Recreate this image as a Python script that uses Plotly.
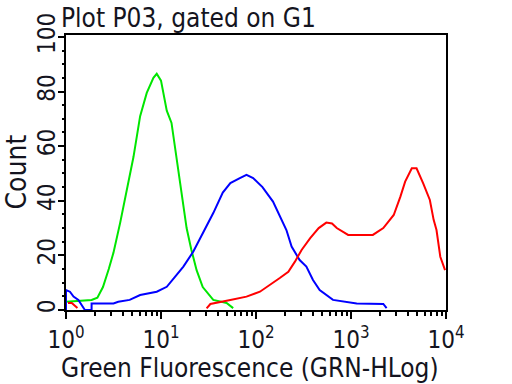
import plotly.graph_objects as go

# ---- data (fluorescence value, count) ----
green_x = [1.0, 1.86, 2.14, 2.45, 2.82, 3.16, 3.72, 4.37, 5.13, 6.03, 7.08, 8.32, 9.02,
           10.0, 11.5, 12.9, 14.6, 16.6, 18.6, 20.9, 23.7, 27.5, 35.5, 49.0, 57.5]
green_y = [3.0, 3.7, 4.5, 8.4, 15.0, 21.0, 32.0, 44.0, 56.0, 71.0, 79.5, 85.0, 86.5,
           84.0, 73.0, 68.5, 56.0, 43.0, 30.0, 22.0, 14.6, 8.4, 3.7, 2.6, 0.7]

blue_x = [1.0, 1.0, 1.10, 1.20, 1.35, 1.51, 1.58, 1.86, 1.86, 3.16, 3.55, 4.68, 6.03, 9.02,
          11.5, 14.1, 17.2, 21.9, 27.5, 35.5, 44.7, 53.7, 67.6, 79.4, 93.3, 117, 151,
          178, 209, 237, 288, 339, 398, 468, 646, 1148, 2188, 2371]
blue_y = [0.0, 7.3, 6.7, 4.9, 3.7, 1.2, 0.0, 0.0, 2.4, 2.4, 3.0, 3.7, 5.5, 6.7,
          8.5, 12.2, 15.9, 21.4, 28.0, 35.5, 43.0, 46.5, 48.3, 49.5, 48.3, 45.0, 39.7,
          34.2, 29.3, 23.2, 18.3, 15.9, 11.0, 7.3, 3.7, 2.4, 2.2, 0.7]

red_x = [1.05, 1.15, 1.32, None, 30.2, 33.1, 53.7, 79.4, 110, 141, 178, 219, 257, 302,
         372, 457, 550, 631, 708, 933, 1698, 2188, 2818, 3311, 3715, 4365, 4898,
         5754, 6761, 7413, 7943, 8710, 9772]
red_y = [2.6, 2.6, 0.7, None, 0.6, 2.2, 3.7, 4.9, 6.7, 9.2, 11.7, 14.0, 17.7, 22.0,
         26.3, 30.0, 32.0, 31.7, 30.0, 27.5, 27.5, 30.0, 34.8, 41.5, 47.0, 51.9, 51.9,
         46.4, 40.3, 33.0, 29.3, 19.5, 14.6]

x_tickvals = [1, 10, 100, 1000, 10000]
x_ticktext = ["10<sup>0</sup>", "10<sup>1</sup>", "10<sup>2</sup>", "10<sup>3</sup>", "10<sup>4</sup>"]
x_minor = [m * d for d in [1, 10, 100, 1000] for m in range(2, 10)]
y_tickvals = [0, 20, 40, 60, 80, 100]
y_ticktext = ["0", "20", "40", "60", "80", "100"]
y_mid_ticks = [10, 30, 50, 70, 90]

FONT = "DejaVu Sans Condensed, DejaVu Sans, sans-serif"
TXT = "#141420"
Y_RANGE = [0, 100.7]

fig = go.Figure()
fig.add_trace(go.Scatter(x=green_x, y=green_y, mode="lines",
                         line=dict(color="rgb(0,230,0)", width=2)))
fig.add_trace(go.Scatter(x=blue_x, y=blue_y, mode="lines",
                         line=dict(color="rgb(0,0,255)", width=2)))
fig.add_trace(go.Scatter(x=red_x, y=red_y, mode="lines", connectgaps=False,
                         line=dict(color="rgb(255,0,0)", width=2)))

fig.update_layout(
    width=512, height=384,
    margin=dict(l=66, r=66, t=35, b=74, autoexpand=False),
    paper_bgcolor="white", plot_bgcolor="white",
    showlegend=False,
    font=dict(family=FONT, color=TXT),
    title=dict(text="Plot P03, gated on G1", font=dict(size=26, family=FONT, color=TXT),
               xref="container", x=61 / 512, xanchor="left",
               yref="container", y=1 - 18 / 384, yanchor="middle"),
    xaxis=dict(
        type="log", range=[0, 4], automargin=False,
        tickmode="array", tickvals=x_tickvals, ticktext=x_ticktext,
        tickfont=dict(size=24, family=FONT, color=TXT),
        ticks="outside", ticklen=7, tickwidth=1.5, tickcolor="black",
        minor=dict(tickmode="array", tickvals=x_minor, ticks="outside",
                   ticklen=4, tickwidth=1.5, tickcolor="black"),
        showline=True, linecolor="black", linewidth=2, mirror=True,
        showgrid=False, zeroline=False,
    ),
    yaxis=dict(
        range=Y_RANGE, automargin=False,
        tickmode="array", tickvals=y_tickvals, ticktext=y_ticktext,
        tickangle=-90, ticklabelstandoff=-7,
        tickfont=dict(size=24, family=FONT, color=TXT),
        ticks="outside", ticklen=6, tickwidth=1.5, tickcolor="black",
        minor=dict(dtick=5, ticks="outside", ticklen=2, tickwidth=1.5, tickcolor="black"),
        showline=True, linecolor="black", linewidth=2, mirror=True,
        showgrid=False, zeroline=False,
    ),
    # unlabelled ticks at the odd tens, drawn by an overlaid axis
    yaxis2=dict(
        overlaying="y", side="left", range=Y_RANGE, automargin=False,
        tickmode="array", tickvals=y_mid_ticks, showticklabels=False,
        ticks="outside", ticklen=6, tickwidth=1.5, tickcolor="black",
        showline=False, showgrid=False, zeroline=False,
    ),
    annotations=[
        dict(text="Green Fluorescence (GRN-HLog)", xref="paper", yref="paper",
             x=0.5, y=0, xanchor="center", yanchor="middle", xshift=-6, yshift=-58,
             showarrow=False, font=dict(size=26, family=FONT, color=TXT)),
        dict(text="Count", xref="paper", yref="paper", x=0, y=0.5,
             xanchor="center", yanchor="middle", xshift=-50, textangle=-90,
             showarrow=False, font=dict(size=28, family=FONT, color=TXT)),
    ],
)

# remove the default 8px body margin so the 512x384 figure fills the window
fig.write_html("out.html", config={"displayModeBar": False},
               post_script="document.body.style.margin='0px';")
